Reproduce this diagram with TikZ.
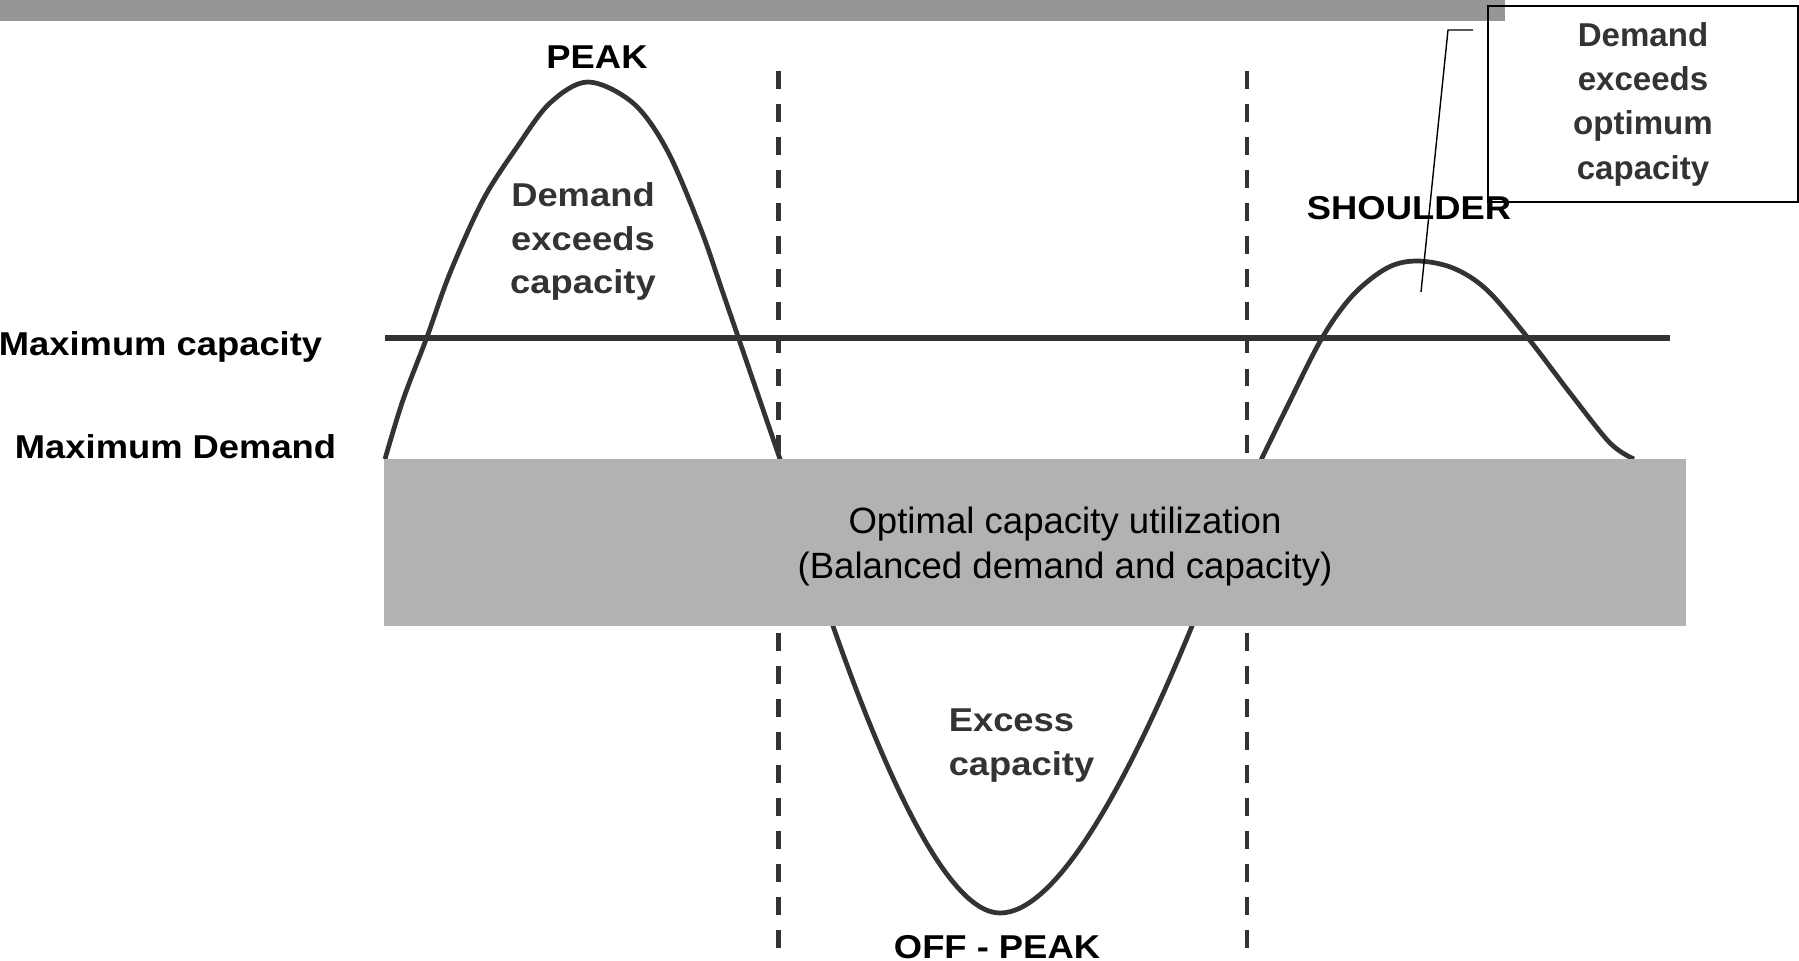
\documentclass[tikz,border=0pt]{standalone}
\usepackage{fontspec}
\setmainfont{Liberation Sans}
\usetikzlibrary{positioning}

\definecolor{linegray}{HTML}{333333}
\definecolor{boxgray}{HTML}{B2B2B2}
\definecolor{bargray}{HTML}{969696}

\tikzset{
  wave/.style={draw=linegray,line width=1.35pt,line join=round},
  divider/.style={draw=linegray,line width=1.3pt,dash pattern=on 5.1pt off 4.3pt},
  caplimit/.style={draw=linegray,line width=1.7pt},
  lbl/.style={inner sep=0pt,font=\bfseries\fontsize{9.4}{12.4}\selectfont,xscale=1.1},
  inlbl/.style={lbl,text=linegray,align=center},
  optbox/.style={fill=boxgray,inner sep=0pt,minimum width=13.02cm,minimum height=1.67cm},
  opttext/.style={inner sep=0pt,align=center,font=\fontsize{10.4}{12.8}\selectfont},
  callout/.style={draw=black,line width=0.6pt,inner sep=0pt,minimum width=3.1cm,
    minimum height=1.96cm,align=center,text=linegray,font=\bfseries\fontsize{9.4}{12.6}\selectfont}
}

\begin{document}
\begin{tikzpicture}[x=0.01cm,y=-0.01cm]
\useasboundingbox (0,0) rectangle (1799,960);
% title strip
\fill[bargray] (0,0) rectangle (1505,21);

% period dividers
\draw[divider] (778.5,71) -- (778.5,960);
\draw[divider] (1247,71) -- (1247,960);

% capacity level
\draw[caplimit] (385,338) -- (1670,338);

% demand wave: peak, off-peak trough, shoulder
\draw[wave] plot[smooth,tension=0.55] coordinates {
    (385,459) (403,400) (427,337) (450,273) (483,200) (517,147) (550,103) (588,82)
    (633,103) (667,150) (700,227) (723,293) (745,357) (780,459)}
  -- (833,626) .. controls (880,760) and (945,913) .. (1000,913)
  .. controls (1055,913) and (1125,790) .. (1192,626) -- (1262,458)
  -- plot[smooth,tension=0.55] coordinates {
    (1262,458) (1287,407) (1322,338) (1353,295) (1387,268) (1417,261) (1453,268)
    (1487,290) (1528,338) (1570,393) (1610,443) (1634,459)};

\node[optbox] (opt) at (1035,542.5) {};
\node[opttext] (optlbl) at (1065,547) {Optimal capacity utilization\\(Balanced demand and capacity)};

\node[lbl,anchor=base east] (maxcap) at (323,355) {Maximum capacity};
\node[lbl,anchor=base east] (maxdem) at (337,458) {Maximum Demand};
\node[lbl,anchor=base] (peak) at (597,68) {PEAK};
\node[lbl,anchor=base] (shoulder) at (1409,219) {SHOULDER};
\node[lbl,anchor=base] (offpeak) at (997,958) {OFF - PEAK};
\node[inlbl] (exceeds) at (583,241.5) {Demand\\exceeds\\capacity};
\node[inlbl,align=left,anchor=west] (excess) at (948,745.5) {Excess\\capacity};

% note on the shoulder
\node[callout] (note) at (1643,104) {Demand\\exceeds\\optimum\\capacity};
\coordinate (knee) at (1448,30);
\coordinate (tip) at (1421,292);
\draw[line width=0.4pt] (1473,30) -- (knee) -- (tip);
\end{tikzpicture}
\end{document}
